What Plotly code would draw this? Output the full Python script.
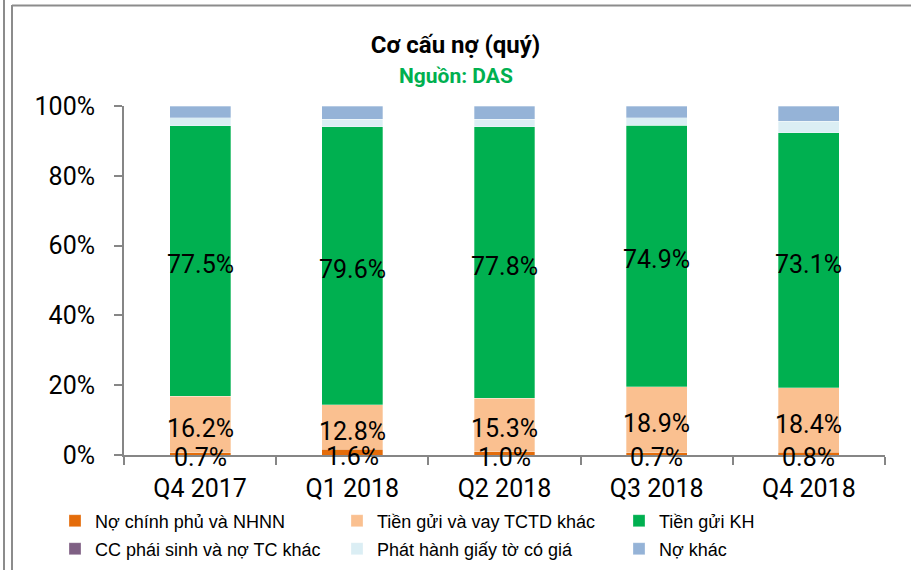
import plotly.graph_objects as go

categories = ["Q4 2017", "Q1 2018", "Q2 2018", "Q3 2018", "Q4 2018"]
no_chinh_phu = [0.7, 1.6, 1.0, 0.7, 0.8]
tien_gui_tctd = [16.2, 12.8, 15.3, 18.9, 18.4]
tien_gui_kh = [77.5, 79.6, 77.8, 74.9, 73.1]
cc_phai_sinh = [0.0, 0.0, 0.0, 0.0, 0.0]
phat_hanh_gtcg = [2.3, 2.2, 2.1, 2.2, 3.4]
no_khac = [3.3, 3.8, 3.8, 3.3, 4.3]

series_names = ["Nợ chính phủ và NHNN", "Tiền gửi và vay TCTD khác", "Tiền gửi KH",
                "CC phái sinh và nợ TC khác", "Phát hành giấy tờ có giá", "Nợ khác"]
series_values = [no_chinh_phu, tien_gui_tctd, tien_gui_kh, cc_phai_sinh, phat_hanh_gtcg, no_khac]
series_colors = ["#e46c0a", "#fac090", "#00b050", "#7f6084", "#dbeef4", "#95b3d7"]
labelled = [True, True, True, False, False, False]

LABEL_FONT = "Roboto, Arial, sans-serif"
W, H = 911, 570
L, R, T, B = 124, 26, 106, 115
PW, PH = W - L - R, H - T - B

def px_x(p):
    return (p - L) / PW

def px_y(p):
    return (H - B - p) / PH

fig = go.Figure()
base = [0.0] * len(categories)
annotations = []
for i, (name, vals, col, lab) in enumerate(zip(series_names, series_values, series_colors, labelled)):
    fig.add_trace(go.Bar(
        x=categories, y=vals, name=name,
        marker=dict(color=col, line=dict(color="rgba(255,255,255,0.6)", width=0.5)),
        cliponaxis=False, hoverinfo="skip",
        legend="legend" if i < 3 else "legend2"))
    if lab:
        for c, b, v in zip(categories, base, vals):
            annotations.append(dict(
                x=c, y=b + v / 2, xref="x", yref="y", text=f"{v:.1f}%", showarrow=False,
                xanchor="center", yanchor="middle", yshift=-4,
                font=dict(family=LABEL_FONT, size=25, color="black")))
    base = [b + v for b, v in zip(base, vals)]

annotations.append(dict(text="<b>Nguồn: DAS</b>", xref="paper", yref="paper", x=px_x(W / 2), y=px_y(76),
                        xanchor="center", yanchor="middle", showarrow=False,
                        font=dict(family=LABEL_FONT, size=21, color="#00b050")))

legend_common = dict(orientation="h", xanchor="left", yanchor="middle",
                     entrywidth=237, entrywidthmode="pixels",
                     font=dict(family="Liberation Sans, Arial, sans-serif", size=18, color="black"),
                     bgcolor="rgba(0,0,0,0)", traceorder="normal", itemclick=False)

shapes = [
    dict(type="line", xref="paper", yref="paper", x0=px_x(4), x1=px_x(4), y0=px_y(0), y1=px_y(H),
         line=dict(color="#8c8c8c", width=2)),
    dict(type="line", xref="paper", yref="paper", x0=px_x(12), x1=px_x(12), y0=px_y(5), y1=px_y(H),
         line=dict(color="#8c8c8c", width=2)),
    dict(type="line", xref="paper", yref="paper", x0=px_x(12), x1=px_x(W), y0=px_y(5.5), y1=px_y(5.5),
         line=dict(color="#8c8c8c", width=2)),
]

fig.update_layout(
    width=W, height=H,
    margin=dict(l=L, r=R, t=T, b=B, autoexpand=False),
    paper_bgcolor="white", plot_bgcolor="white",
    barmode="stack", bargap=0.6,
    title=dict(text="<b>Cơ cấu nợ (quý)</b>", x=0.5, xanchor="center", y=1 - 45 / H, yanchor="middle",
               font=dict(family=LABEL_FONT, size=24, color="black")),
    annotations=annotations,
    shapes=shapes,
    legend=dict(x=px_x(55), y=px_y(521), **legend_common),
    legend2=dict(x=px_x(55), y=px_y(549), **legend_common),
    xaxis=dict(type="category", showline=True, linecolor="#868686", linewidth=2,
               ticks="outside", tickson="boundaries", ticklen=8, tickcolor="#868686", tickwidth=1.5,
               ticklabelstandoff=10,
               tickfont=dict(family=LABEL_FONT, size=25, color="black"), showgrid=False),
    yaxis=dict(range=[0, 100], dtick=20, ticksuffix="%", showline=True, linecolor="#868686", linewidth=2,
               ticks="outside", ticklen=8, tickcolor="#868686", tickwidth=1.5, showgrid=False,
               zeroline=False, ticklabelstandoff=14,
               tickfont=dict(family=LABEL_FONT, size=25, color="black")),
    showlegend=True,
)

fig.write_html("out.html", config={"displayModeBar": False},
               post_script="document.body.style.margin='0px';")
